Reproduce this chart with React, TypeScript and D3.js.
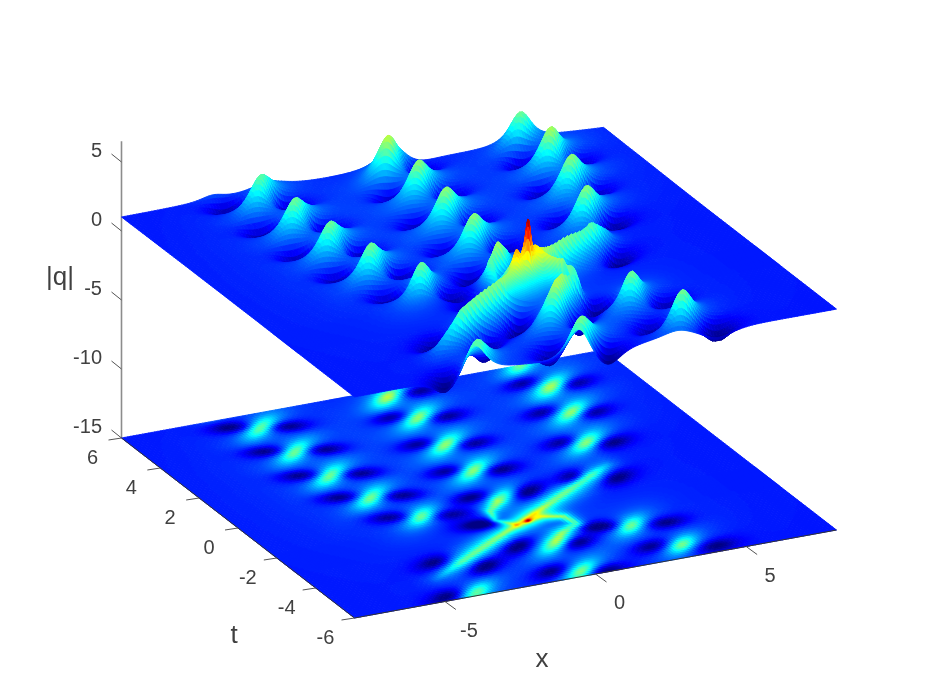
import React, { useMemo } from "react";
import * as d3 from "d3";

// ---- axes ----
const xTicks = [-5, 0, 5];
const tTicks = [-6, -4, -2, 0, 2, 4, 6];
const zTicks = [-15, -10, -5, 0, 5];

// ---- field: humps of |q| on a background of about 1 ----
const peakX = [-3.91, -3.83, -3.72, -3.39, -2.7, 0.59, 0.67, 0.46, 0.3, 0.12, 5.31, 4.95, 4.3, 5.2, -0.12, -0.31, 2.62, 3.33, -3.86, -4.6];
const peakT = [5.17, 3.53, 1.9, 0.31, -1.21, 5.58, 4.16, 2.43, 0.75, -0.97, 4.52, 2.93, 1.16, 5.95, -4.03, -5.75, -3.76, -5.29, -5.85, 6.4];
const peakH = [2.8, 2.8, 2.8, 2.8, 2.7, 3.0, 2.85, 2.85, 2.85, 2.3, 3.0, 2.85, 2.85, 2.3, 2.4, 2.7, 2.7, 2.6, 2.4, 0.9];
const peakLong = [0.95, 0.95, 0.95, 0.9, 0.8, 0.95, 0.95, 0.95, 0.95, 0.85, 0.95, 0.95, 0.95, 0.95, 0.95, 0.95, 0.8, 0.8, 0.95, 0.9];

const dipX = [-4.72, -3.14, -4.63, -2.95, -4.53, -2.84, -4.22, -2.51, -3.57, -1.82, -0.06, 1.46, 1.58, -0.27, 1.25, -0.46, 1.07, -0.69, 4.63, 6.09, 4.16, 5.56, 3.63, 5.0, 1.05, 2.73, 3.91, -1.36, 1.72, 0.62, -1.14, -2.72, -1.12, 2.45, 3.66, 4.2, -3.93, -4.81, 0.4];
const dipT = [5.47, 4.95, 3.83, 3.35, 2.19, 1.71, 0.62, 0.12, -0.96, -1.4, 4.42, 3.93, 5.56, 2.7, 2.21, 0.97, 0.54, -0.68, 4.97, 4.44, 3.21, 2.7, 1.4, 0.9, -0.92, -0.53, -1.04, -2.23, -3.5, -4.16, -3.78, -4.53, -5.46, -5.09, -3.94, -5.7, -3.83, -5.8, -5.95];
const dipD = [1.4, 1.4, 1.4, 1.4, 1.4, 1.4, 1.4, 1.4, 1.3, 1.2, 1.4, 1.4, 1.4, 1.4, 1.4, 1.4, 1.5, 1.5, 1.4, 1.4, 1.4, 1.4, 1.4, 1.4, 1.7, 1.7, 1.4, 1.9, 1.7, 1.5, 1.6, 1.7, 1.4, 1.3, 1.3, 1.3, 1.4, 1.4, 1.4];
const dipTilt = [-5, -5, -5, -5, -5, -5, -5, -5, -5, 0, 8, 8, 8, 8, 8, 8, 10, 10, 15, 15, 15, 15, 15, 15, 27, 27, 24, 0, -5, 20, 27, 27, 20, 15, 5, 10, 20, 20, 10];

const ridgeX = [-4.5, -3.2, -1.0, -0.16, 1.5, 3.3, 4.1];
const ridgeT = [-4.75, -4.05, -2.9, -2.5, -1.6, -0.65, -0.25];
const ridgeH = [0.6, 2.5, 2.6, 2.9, 2.5, 2.7, 1.0];

const leftArcX = [-0.45, -0.85, -0.67, -0.1];
const leftArcT = [-2.57, -2.15, -1.62, -1.15];
const leftArcH = [1.3, 1.8, 1.8, 1.0];
const rightArcX = [0.1, 0.53, 1.13, 1.23, 0.48, 0.05];
const rightArcT = [-2.5, -2.4, -2.61, -3.12, -3.51, -3.85];
const rightArcH = [1.0, 1.9, 2.3, 2.2, 1.9, 0.9];

const spikeX = 0.02;
const spikeT = -2.5;
const spikeH = 2.7;

const background = 1;
const colorMax = 6.9;

// ---- projection (orthographic, as the 3-D axes box of the reference) ----
const W = 926;
const H = 695;
const xToPx = d3.scaleLinear().domain([-8, 8]).range([-241, 241]);
const xToPy = d3.scaleLinear().domain([-8, 8]).range([44, -44]);
const tToPx = d3.scaleLinear().domain([-6, 6]).range([116.5, -116.5]);
const tToPy = d3.scaleLinear().domain([-6, 6]).range([90, -90]);
const zToPy = d3.scaleLinear().domain([-15, 5]).range([0, -276]);
const ORIGIN_X = 479;
const ORIGIN_Y = 484;
const px = (x: number, t: number) => ORIGIN_X + xToPx(x) + tToPx(t);
const py = (x: number, t: number, z: number) => ORIGIN_Y + xToPy(x) + tToPy(t) + zToPy(z);

const jet = d3
  .scaleLinear<string>()
  .domain([0, 1 / 8, 3 / 8, 5 / 8, 7 / 8, 1].map((d) => d * colorMax))
  .range(["#000080", "#0000ff", "#00ffff", "#ffff00", "#ff0000", "#800000"])
  .clamp(true);

const sech2 = (r: number) => {
  const c = Math.cosh(Math.min(Math.abs(r), 20));
  return 1 / (c * c);
};
const cusp = (r: number) => Math.pow(1 + r * r, -1.5);
const AX = 0.83;
const AT = 0.56;

function strandValue(x: number, t: number, xs: number[], ts: number[], hs: number[], wide: number, narrow: number, mixWide: number) {
  let best = 0;
  for (let i = 0; i < xs.length - 1; i++) {
    const dx = xs[i + 1] - xs[i];
    const dt = ts[i + 1] - ts[i];
    const s = Math.max(0, Math.min(1, ((x - xs[i]) * dx + (t - ts[i]) * dt) / (dx * dx + dt * dt)));
    const d = Math.hypot(x - xs[i] - s * dx, t - ts[i] - s * dt);
    const h = hs[i] + s * (hs[i + 1] - hs[i]);
    const v = h * (mixWide * sech2(d / wide) + (1 - mixWide) * sech2(d / narrow));
    if (v > best) best = v;
  }
  return best;
}

function field(x: number, t: number) {
  let v = background;
  for (let i = 0; i < peakX.length; i++) {
    const dx = x - peakX[i];
    const dt = t - peakT[i];
    const u = dx * AX + dt * AT;
    const w = -dx * AT + dt * AX;
    v += peakH[i] * cusp(Math.hypot(u / peakLong[i], w / 0.36));
  }
  for (let i = 0; i < dipX.length; i++) {
    const dx = x - dipX[i];
    const dt = t - dipT[i];
    const a = (dipTilt[i] * Math.PI) / 180;
    const u = dx * Math.cos(a) + dt * Math.sin(a);
    const w = -dx * Math.sin(a) + dt * Math.cos(a);
    v -= dipD[i] * sech2(Math.hypot(u / 0.62, w / 0.3));
  }
  v += strandValue(x, t, ridgeX, ridgeT, ridgeH, 0.42, 0.11, 0.62);
  v += strandValue(x, t, leftArcX, leftArcT, leftArcH, 0.22, 0.09, 0.6);
  v += strandValue(x, t, rightArcX, rightArcT, rightArcH, 0.28, 0.09, 0.6);
  const dx = x - spikeX;
  const dt = t - spikeT;
  v += spikeH * sech2(Math.hypot((dx * 0.885 + dt * 0.465) / 0.14, (-dx * 0.465 + dt * 0.885) / 0.07));
  return Math.max(0.03, v);
}

// mesh: 0.1 step, refined round the narrow spike
function meshAxis(lo: number, hi: number, a: number, b: number) {
  const out: number[] = [];
  let v = lo;
  while (v < hi - 1e-6) {
    out.push(v);
    v += v >= a && v < b ? 0.03 : 0.1;
  }
  out.push(hi);
  return out;
}
const gridX = meshAxis(-8, 8, -1.2, 0.9);
const gridT = meshAxis(-6, 6, -3.2, -1.8);
const NX = gridX.length - 1;
const NT = gridT.length - 1;

function buildPaths(values: number[][], flat: boolean) {
  const out: { d: string; c: string }[] = [];
  let cur = "";
  let curKey = -1;
  const push = () => {
    if (cur) out.push({ d: cur, c: jet((curKey / 255) * colorMax) });
  };
  for (let j = NT - 1; j >= 0; j--) {
    for (let i = NX - 1; i >= 0; i--) {
      const z00 = values[j][i];
      const z10 = values[j][i + 1];
      const z01 = values[j + 1][i];
      const z11 = values[j + 1][i + 1];
      const mean = (z00 + z10 + z01 + z11) / 4;
      const key = Math.min(255, Math.round((mean / colorMax) * 255));
      const p = d3.path();
      const yOf = (x: number, t: number, z: number) => py(x, t, flat ? -15 : z);
      p.moveTo(px(gridX[i], gridT[j]), yOf(gridX[i], gridT[j], z00));
      p.lineTo(px(gridX[i + 1], gridT[j]), yOf(gridX[i + 1], gridT[j], z10));
      p.lineTo(px(gridX[i + 1], gridT[j + 1]), yOf(gridX[i + 1], gridT[j + 1], z11));
      p.lineTo(px(gridX[i], gridT[j + 1]), yOf(gridX[i], gridT[j + 1], z01));
      p.closePath();
      if (key !== curKey) {
        push();
        cur = "";
        curKey = key;
      }
      cur += p.toString();
    }
  }
  push();
  return out;
}

const TEXT = "#404040";
const FONT = "'Liberation Sans', Arial, sans-serif";

export default function App() {
  const { plane, surface } = useMemo(() => {
    const values = gridT.map((t) => gridX.map((x) => field(x, t)));
    return { plane: buildPaths(values, true), surface: buildPaths(values, false) };
  }, []);
  const zBase = -15;
  return (
    <svg
      width={W}
      height={H}
      viewBox={`0 0 ${W} ${H}`}
      style={{ position: "absolute", left: 0, top: 0, background: "#fff", filter: "blur(0.5px)" }}
      fontFamily={FONT}
    >
      {/* z axis */}
      <line x1={px(-8, 6)} x2={px(-8, 6)} y1={py(-8, 6, zBase)} y2={py(-8, 6, 6.5)} stroke="#8c8c8c" strokeWidth={1.6} />
      {zTicks.map((z) => (
        <g key={z}>
          <line x1={px(-8, 6)} y1={py(-8, 6, z)} x2={px(-8, 6) - 10} y2={py(-8, 6, z) - 8} stroke="#555" strokeWidth={1} />
          <text x={102} y={py(-8, 6, z) - 5} textAnchor="end" fontSize={20} fill={TEXT}>
            {z}
          </text>
        </g>
      ))}
      {plane.map((q, i) => (
        <path key={i} d={q.d} fill={q.c} stroke={q.c} strokeWidth={0.9} />
      ))}
      {/* t and x axes */}
      <line x1={px(-8, 6)} y1={py(-8, 6, zBase)} x2={px(-8, -6)} y2={py(-8, -6, zBase)} stroke="#333" strokeWidth={1} />
      <line x1={px(-8, -6)} y1={py(-8, -6, zBase)} x2={px(8, -6)} y2={py(8, -6, zBase)} stroke="#333" strokeWidth={1} />
      {tTicks.map((t) => (
        <g key={t}>
          <line x1={px(-8, t)} y1={py(-8, t, zBase)} x2={px(-8, t) - 13} y2={py(-8, t, zBase) + 2} stroke="#555" strokeWidth={1} />
          <text x={px(-8, t) - 29} y={py(-8, t, zBase) + 26} textAnchor="middle" fontSize={20} fill={TEXT}>
            {t}
          </text>
        </g>
      ))}
      {xTicks.map((x) => (
        <g key={x}>
          <line x1={px(x, -6)} y1={py(x, -6, zBase)} x2={px(x, -6) + 11} y2={py(x, -6, zBase) + 8} stroke="#555" strokeWidth={1} />
          <text x={px(x, -6) + 24} y={py(x, -6, zBase) + 35} textAnchor="middle" fontSize={20} fill={TEXT}>
            {x}
          </text>
        </g>
      ))}
      {surface.map((q, i) => (
        <path key={i} d={q.d} fill={q.c} stroke={q.c} strokeWidth={0.9} />
      ))}
      <text x={542} y={667} textAnchor="middle" fontSize={26} fill={TEXT}>
        x
      </text>
      <text x={234} y={643} textAnchor="middle" fontSize={26} fill={TEXT}>
        t
      </text>
      <text x={60} y={285} textAnchor="middle" fontSize={26} fill={TEXT}>
        |q|
      </text>
    </svg>
  );
}
